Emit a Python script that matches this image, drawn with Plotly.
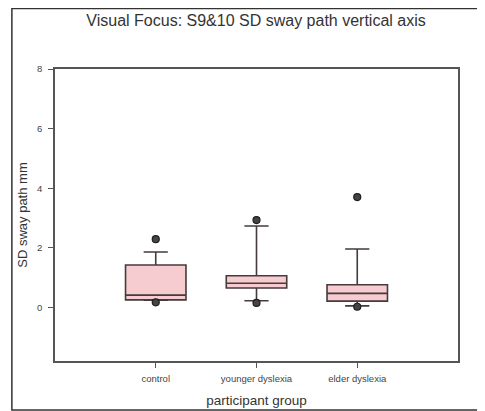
import plotly.graph_objects as go

groups = ["control", "younger dyslexia", "elder dyslexia"]
q1 = [0.25, 0.65, 0.21]
median = [0.41, 0.81, 0.47]
q3 = [1.42, 1.06, 0.76]
lower_whisker = [0.24, 0.22, 0.05]
upper_whisker = [1.86, 2.73, 1.96]
outlier_groups = ["control", "control", "younger dyslexia", "younger dyslexia", "elder dyslexia", "elder dyslexia"]
outlier_values = [2.29, 0.17, 2.93, 0.15, 3.70, 0.02]

x_index = {g: i for i, g in enumerate(groups)}

fig = go.Figure()
fig.add_trace(go.Scatter(
    x=[x_index[g] for g in outlier_groups],
    y=outlier_values,
    mode="markers",
    marker=dict(size=7, color="#444444", line=dict(color="#1e1e1e", width=1.2)),
    showlegend=False,
    hoverinfo="skip",
))
fig.add_trace(go.Box(
    x=list(range(len(groups))),
    q1=q1, median=median, q3=q3,
    lowerfence=lower_whisker, upperfence=upper_whisker,
    fillcolor="#f6ccd0",
    line=dict(color="#453a3c", width=1.6),
    width=0.6,
    whiskerwidth=0.4,
    boxpoints=False,
    showlegend=False,
    hoverinfo="skip",
))

fam = "Liberation Sans, Arial, sans-serif"
axis_font = dict(family=fam, size=9.5, color="#444444")

fig.update_layout(
    width=477, height=403,
    margin=dict(l=47, r=27, t=61, b=50),
    paper_bgcolor="white", plot_bgcolor="white",
    title=dict(text="Visual Focus: S9&10 SD sway path vertical axis",
               x=0.52, xanchor="center", y=0.970, yanchor="middle",
               font=dict(family=fam, size=16, color="#333333")),
    xaxis=dict(
        range=[-1, 3],
        tickmode="array", tickvals=list(range(len(groups))), ticktext=groups,
        showgrid=False, zeroline=False,
        showline=True, linecolor="#555555", linewidth=1.5, mirror=True,
        ticks="outside", ticklen=5, tickcolor="#555555",
        ticklabelstandoff=3,
        tickfont=axis_font,
        automargin=False,
        title=dict(text="participant group", standoff=12,
                   font=dict(family=fam, size=13.5, color="#333333")),
    ),
    yaxis=dict(
        range=[-1.8, 8],
        tickvals=[0, 2, 4, 6, 8],
        showgrid=False, zeroline=False,
        showline=True, linecolor="#555555", linewidth=1.5, mirror=True,
        ticks="outside", ticklen=5, tickcolor="#555555",
        ticklabelstandoff=4,
        tickfont=axis_font,
        automargin=False,
        title=dict(text="SD sway path mm", standoff=7,
                   font=dict(family=fam, size=13, color="#333333")),
    ),
    shapes=[dict(type="rect", xref="paper", yref="paper",
                 x0=-0.107, x1=1.052, y0=-0.168, y1=1.207,
                 line=dict(color="#333333", width=1.5), fillcolor="rgba(0,0,0,0)")],
)

fig.write_html("out.html")
